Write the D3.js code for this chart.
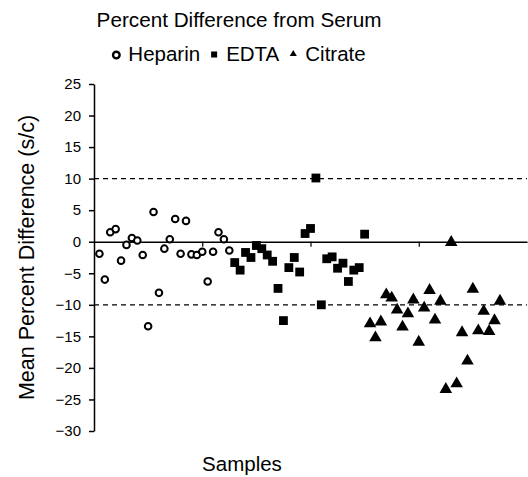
<!DOCTYPE html>
<html>
<head>
  <meta charset="UTF-8">
  <style>
    body { margin: 0; background: #fff; }
    svg { display: block; font-family: "Liberation Sans", Arial, sans-serif; }
  </style>
</head>
<body>
  <div id="content"><svg></svg></div>
  <script src="https://d3js.org/d3.v7.min.js"></script>
  <script>
    // values, one per sample (x = sample number)
    var heparin = [-1.9, -6.0, 1.5, 2.0, -3.0, -0.5, 0.6, 0.2, -2.1, -13.4, 4.7, -8.1, -1.1,
                   0.4, 3.6, -1.9, 3.3, -2.0, -2.1, -1.6, -6.3, -1.6, 1.5, 0.4, -1.4];
    var edta = [-3.3, -4.5, -1.7, -2.5, -0.6, -1.1, -2.1, -3.1, -7.4, -12.5, -4.1, -2.5, -4.8,
                1.3, 2.1, 10.1, -10.0, -2.7, -2.4, -4.2, -3.4, -6.3, -4.5, -4.1, 1.2];
    var citrate = [-13.0, -15.2, -12.7, -8.4, -8.9, -10.8, -13.5, -11.4, -9.2, -15.9, -10.5, -7.7, -12.4,
                   -9.4, -23.4, -0.1, -22.5, -14.4, -18.9, -7.5, -14.1, -11.0, -14.2, -12.5, -9.4];
    var seriesNames = ["Heparin", "EDTA", "Citrate"];
    var yTicks = [-30, -25, -20, -15, -10, -5, 0, 5, 10, 15, 20, 25];
    var xTicks = [20, 40, 60];
    var refLines = [10, -10];

    let width = 528, height = 477;

    let svg = d3.select("svg")
      .attr("width", width)
      .attr("height", height);

    // samples are numbered in order across the three groups
    var series = [];
    var n = 0;
    [heparin, edta, citrate].forEach(function (vals, s) {
      series.push({
        name: seriesNames[s],
        points: vals.map(function (v) { n++; return { x: n, y: v }; })
      });
    });

    var x = d3.scaleLinear().domain([0, 80]).range([94, 527]);
    var y = d3.scaleLinear().domain([-30, 25]).range([431, 84]);

    // dashed reference lines
    svg.selectAll(".ref")
      .data(refLines)
      .enter()
      .append("line")
      .attr("x1", x(0))
      .attr("x2", x(80))
      .attr("y1", function (d) { return y(d); })
      .attr("y2", function (d) { return y(d); })
      .attr("stroke", "#000")
      .attr("stroke-width", 1.3)
      .attr("stroke-dasharray", "5,4");

    // x axis sits on zero, no labels
    var xAxis = svg.append("g")
      .attr("transform", "translate(0," + y(0) + ")")
      .call(d3.axisBottom(x).tickValues(xTicks).tickFormat("").tickSize(5).tickSizeOuter(0));
    xAxis.select(".domain").attr("stroke-width", 1.5);
    xAxis.selectAll(".tick line").attr("stroke-width", 1.2);

    var yAxis = svg.append("g")
      .attr("transform", "translate(" + x(0) + ",0)")
      .call(d3.axisLeft(y).tickValues(yTicks).tickSize(5).tickSizeOuter(0).tickPadding(8));
    yAxis.select(".domain").attr("stroke-width", 1.5);
    yAxis.selectAll(".tick line").attr("stroke-width", 1.5);
    yAxis.selectAll("text")
      .attr("font-family", "Liberation Sans, Arial, sans-serif")
      .attr("font-size", 15)
      .attr("fill", "#000");

    // markers
    var tri = d3.symbol().type(d3.symbolTriangle).size(68);

    svg.append("g").selectAll("circle")
      .data(series[0].points)
      .enter()
      .append("circle")
      .attr("cx", function (d) { return x(d.x); })
      .attr("cy", function (d) { return y(d.y); })
      .attr("r", 3.3)
      .attr("fill", "#fff")
      .attr("stroke", "#000")
      .attr("stroke-width", 2);

    svg.append("g").selectAll("rect")
      .data(series[1].points)
      .enter()
      .append("rect")
      .attr("x", function (d) { return x(d.x) - 4.4; })
      .attr("y", function (d) { return y(d.y) - 4.4; })
      .attr("width", 8.8)
      .attr("height", 8.8)
      .attr("fill", "#000");

    svg.append("g").selectAll("path")
      .data(series[2].points)
      .enter()
      .append("path")
      .attr("d", tri)
      .attr("transform", function (d) { return "translate(" + x(d.x) + "," + y(d.y) + ")"; })
      .attr("fill", "#000");

    // titles
    svg.append("text")
      .attr("x", 239)
      .attr("y", 27)
      .attr("text-anchor", "middle")
      .attr("font-size", 20.7)
      .text("Percent Difference from Serum");

    svg.append("text")
      .attr("x", 242)
      .attr("y", 471)
      .attr("text-anchor", "middle")
      .attr("font-size", 20.5)
      .text("Samples");

    svg.append("text")
      .attr("transform", "translate(34," + ((y(25) + y(-30)) / 2) + ") rotate(-90)")
      .attr("text-anchor", "middle")
      .attr("font-size", 21.5)
      .text("Mean Percent Difference (s/c)");

    // legend: symbol + name, laid out in a row and centred
    var legend = svg.append("g");
    var lx = 0;
    series.forEach(function (s, i) {
      var g = legend.append("g").attr("transform", "translate(" + lx + ",0)");
      if (i == 0) {
        g.append("circle").attr("cx", 4).attr("cy", -6).attr("r", 3.3)
          .attr("fill", "none").attr("stroke", "#000").attr("stroke-width", 2.4);
      } else if (i == 1) {
        g.append("rect").attr("x", 1).attr("y", -9.5).attr("width", 6).attr("height", 6).attr("fill", "#000");
      } else {
        g.append("path").attr("d", d3.symbol().type(d3.symbolTriangle).size(22))
          .attr("transform", "translate(4,-7)").attr("fill", "#000");
      }
      var t = g.append("text").attr("x", 16).attr("font-size", 20.5).text(s.name);
      lx += 16 + t.node().getComputedTextLength() + 10;
    });
    var lw = lx - 10;
    legend.attr("transform", "translate(" + (239 - lw / 2) + ",61)");
  </script>
</body>
</html>
